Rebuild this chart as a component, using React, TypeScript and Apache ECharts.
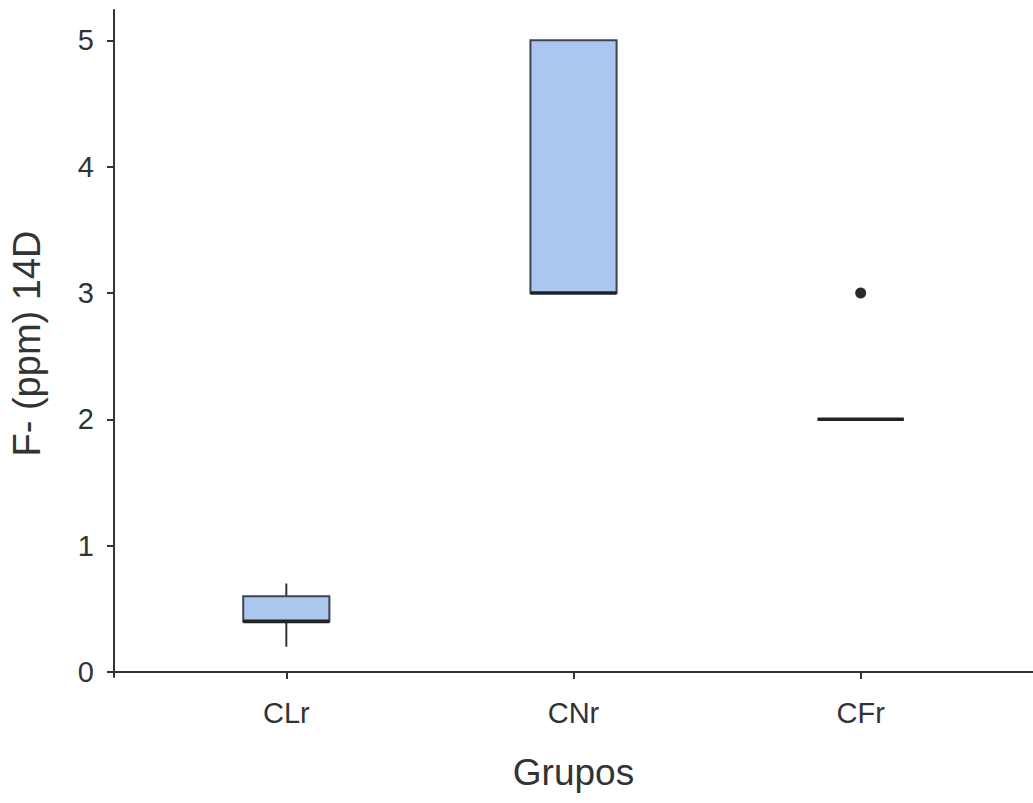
import React, { useEffect, useRef } from "react";
import * as echarts from "echarts";

const categories = ["CLr", "CNr", "CFr"];
const whiskerLow = [0.2, 3, 2];
const quartile1 = [0.4, 3, 2];
const medians = [0.4, 3, 2];
const quartile3 = [0.6, 5, 2];
const whiskerHigh = [0.7, 5, 2];
const outlierGroups = ["CFr"];
const outlierValues = [3];
const yTickValues = [0, 1, 2, 3, 4, 5];

const FONT = "'Liberation Sans', Arial, Helvetica, sans-serif";

export default function App() {
  const ref = useRef<HTMLDivElement>(null);

  useEffect(() => {
    if (!ref.current) return;
    const chart = echarts.init(ref.current, undefined, { renderer: "svg" });

    const positions = categories.map((_, i) => i + 1);
    const boxData = categories.map((_, i) => [
      positions[i],
      whiskerLow[i],
      quartile1[i],
      medians[i],
      quartile3[i],
      whiskerHigh[i],
    ]);
    const outlierData = outlierGroups.map((g, i) => [
      categories.indexOf(g) + 1,
      outlierValues[i],
    ]);

    const halfWidth = 0.15;

    chart.setOption({
      animation: false,
      backgroundColor: "#ffffff",
      grid: { left: 111, right: 0, top: 10, bottom: 126, containLabel: false },
      xAxis: {
        type: "value",
        min: 0.4,
        max: 3.6,
        name: "Grupos",
        nameLocation: "middle",
        nameGap: 77,
        nameTextStyle: { fontSize: 37, color: "#333", fontFamily: FONT },
        axisLine: { show: true, lineStyle: { color: "#333", width: 2 } },
        axisTick: {
          show: true,
          length: 7,
          customValues: positions,
          lineStyle: { color: "#333", width: 2 },
        },
        axisLabel: {
          show: true,
          customValues: positions,
          formatter: (v: number) => categories[Math.round(v) - 1] ?? "",
          fontSize: 29,
          color: "#333",
          fontFamily: FONT,
          margin: 21,
        },
        splitLine: { show: false },
      },
      yAxis: {
        type: "value",
        min: -0.04,
        max: 5.24,
        name: "F- (ppm) 14D",
        nameLocation: "middle",
        nameGap: 68,
        nameTextStyle: { fontSize: 38, color: "#333", fontFamily: FONT },
        axisLine: { show: true, lineStyle: { color: "#333", width: 2 } },
        axisTick: {
          show: true,
          length: 7,
          customValues: yTickValues,
          lineStyle: { color: "#333", width: 2 },
        },
        axisLabel: {
          show: true,
          customValues: yTickValues,
          fontSize: 29,
          color: "#333",
          fontFamily: FONT,
          margin: 20,
        },
        splitLine: { show: false },
      },
      series: [
        {
          type: "custom",
          data: boxData,
          encode: { x: 0, y: [1, 2, 3, 4, 5] },
          renderItem: (params: any, api: any) => {
            const x = api.value(0);
            const lo = api.value(1);
            const q1 = api.value(2);
            const med = api.value(3);
            const q3 = api.value(4);
            const hi = api.value(5);
            const pLo = api.coord([x, lo]);
            const pQ1 = api.coord([x, q1]);
            const pQ3 = api.coord([x, q3]);
            const pHi = api.coord([x, hi]);
            const left = api.coord([x - halfWidth, med])[0];
            const right = api.coord([x + halfWidth, med])[0];
            const pMed = api.coord([x, med]);
            return {
              type: "group",
              children: [
                {
                  type: "line",
                  shape: { x1: pHi[0], y1: pHi[1], x2: pQ3[0], y2: pQ3[1] },
                  style: { stroke: "#333", lineWidth: 2 },
                },
                {
                  type: "line",
                  shape: { x1: pQ1[0], y1: pQ1[1], x2: pLo[0], y2: pLo[1] },
                  style: { stroke: "#333", lineWidth: 2 },
                },
                {
                  type: "rect",
                  shape: {
                    x: left,
                    y: pQ3[1],
                    width: right - left,
                    height: pQ1[1] - pQ3[1],
                  },
                  style: { fill: "#abc6ef", stroke: "#3c4452", lineWidth: 2 },
                },
                {
                  type: "line",
                  shape: { x1: left, y1: pMed[1], x2: right, y2: pMed[1] },
                  style: { stroke: "#222", lineWidth: 3.6 },
                },
              ],
            };
          },
        },
        {
          type: "scatter",
          data: outlierData,
          symbol: "circle",
          symbolSize: 11,
          itemStyle: { color: "#2a2a2a", opacity: 1 },
        },
      ],
    });

    return () => chart.dispose();
  }, []);

  return (
    <div
      ref={ref}
      style={{ position: "fixed", left: 0, top: 0, width: 1033, height: 803 }}
    />
  );
}
